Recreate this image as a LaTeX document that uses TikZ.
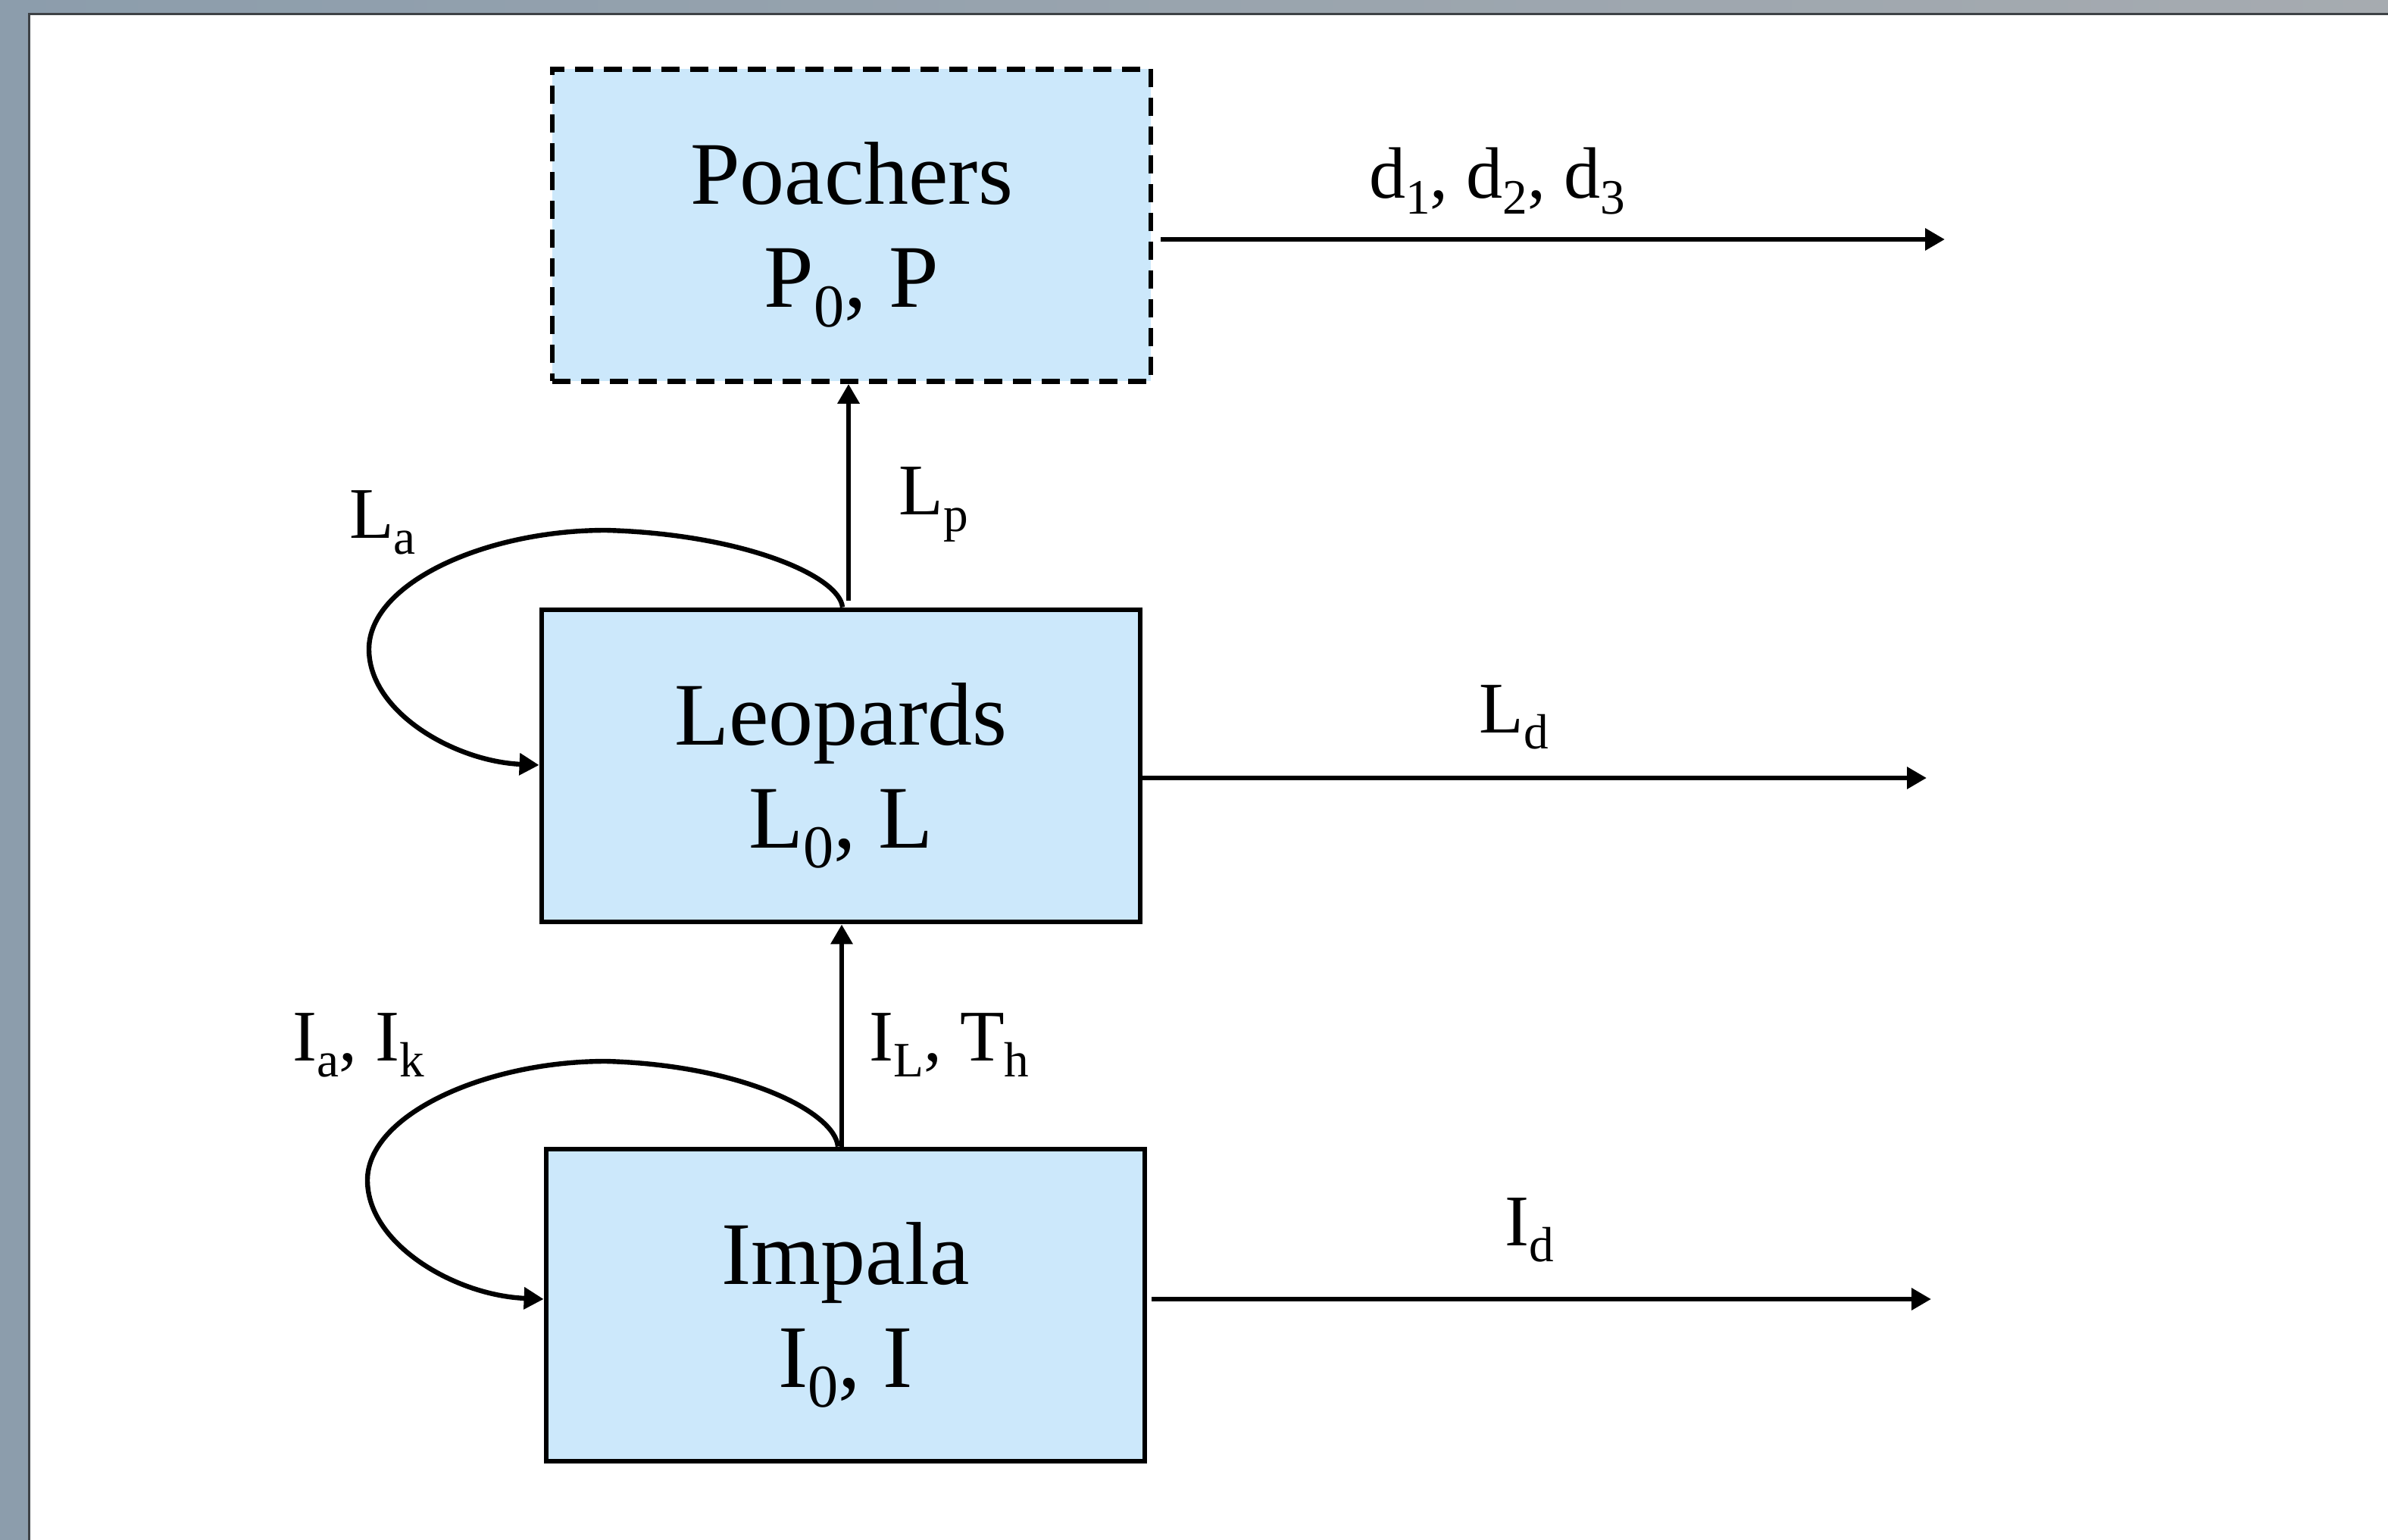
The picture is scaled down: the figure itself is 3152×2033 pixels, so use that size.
\documentclass[tikz,border=0pt]{standalone}
\usepackage{fontspec}
\usepackage{graphicx}
\setmainfont{Liberation Serif}
\usetikzlibrary{arrows.meta}
\definecolor{boxblue}{RGB}{204,232,251}
\definecolor{frameL}{RGB}{140,157,172}
\definecolor{frameR}{RGB}{166,171,176}
\definecolor{frameline}{RGB}{62,66,70}
\newcommand{\dn}[1]{\raisebox{-0.22em}{\scalebox{0.68}{#1}}}
\begin{document}
\begin{tikzpicture}[x=0.25pt,y=-0.25pt,
  box/.style={draw=black, line width=1.7pt, fill=boxblue, minimum width=197.5pt,
    minimum height=103pt, inner sep=0pt},
  boxtext/.style={inner sep=0pt, align=center, font=\fontsize{29.5}{34}\selectfont},
  lbl/.style={font=\fontsize{24}{28}\selectfont, inner sep=0pt},
  flow/.style={line width=1.6pt, -{Triangle[length=6.5pt,width=7pt]}}]
\useasboundingbox (0,0) rectangle (3152,2033);
% background frame
\shade[left color=frameL, right color=frameR] (0,0) rectangle (3152,2033);
\fill[white] (38,18) rectangle (3152,2033);
\draw[frameline, line width=0.6pt] (38.5,2033) -- (38.5,18.5) -- (3152,18.5);
% boxes
\node[box, dash pattern=on 6pt off 3.5pt] (P) at (1124,297.5) {};
\node[box] (L) at (1110,1011) {};
\node[box] (I) at (1116,1723) {};
\node[boxtext] (Pt) at ([yshift=-3.2pt]P.center) {Poachers\\P\dn{0}, P};
\node[boxtext] (Lt) at ([yshift=-3.2pt]L.center) {Leopards\\L\dn{0}, L};
\node[boxtext] (It) at ([yshift=-3.2pt]I.center) {Impala\\I\dn{0}, I};
% coordinates
\coordinate (pe) at (2567,316);
\coordinate (le) at (2543,1027);
\coordinate (ie) at (2549,1715);
\coordinate (lpx) at (1120,0);
\coordinate (ilx) at (1111,0);
\coordinate (las) at (1112,0);
\coordinate (lae) at (0,1010);
\coordinate (ias) at (1106,0);
\coordinate (iae) at (0,1715);
% outflow arrows
\draw[flow, shorten <=2.5pt] (P.east |- pe) -- (pe);
\draw[flow] (L.east |- le) -- (le);
\draw[flow, shorten <=1.5pt] (I.east |- ie) -- (ie);
% vertical arrows
\draw[flow, shorten <=2.2pt] (L.north -| lpx) -- (P.south -| lpx);
\draw[flow] (I.north -| ilx) -- (L.south -| ilx);
% self loops
\draw[flow] (L.north -| las) .. controls (1108,760) and (980,705) .. (800,700)
  .. controls (640,700) and (487,770) .. (487,857)
  .. controls (487,940) and (600,1005) .. (L.west |- lae);
\draw[flow] (I.north -| ias) .. controls (1102,1468) and (980,1406) .. (800,1401)
  .. controls (640,1401) and (485,1472) .. (485,1558)
  .. controls (485,1642) and (600,1710) .. (I.west |- iae);
% labels
\node[lbl] (dlab) at (1976,239) {d\dn{1}, d\dn{2}, d\dn{3}};
\node[lbl] (ldlab) at (1998,947) {L\dn{d}};
\node[lbl] (idlab) at (2019,1624) {I\dn{d}};
\node[lbl] (lplab) at (1232,666) {L\dn{p}};
\node[lbl] (ithlab) at (1253,1380) {I\dn{L}, T\dn{h}};
\node[lbl] (lalab) at (505,690) {L\dn{a}};
\node[lbl] (iaklab) at (473,1380) {I\dn{a}, I\dn{k}};
\end{tikzpicture}
\end{document}
